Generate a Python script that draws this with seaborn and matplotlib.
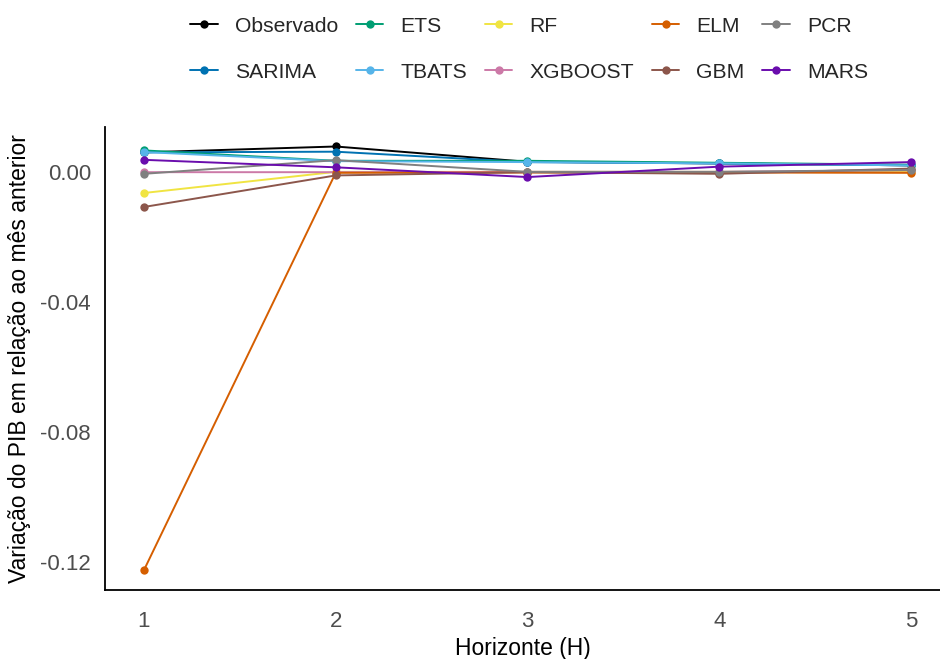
import numpy as np
import pandas as pd
import matplotlib
matplotlib.use("Agg")
import matplotlib.pyplot as plt
import seaborn as sns

horizons = [1, 2, 3, 4, 5]
models = ["Observado", "SARIMA", "ETS", "TBATS", "RF", "XGBOOST", "ELM", "GBM", "PCR", "MARS"]

observado = [0.0060, 0.0078, 0.0031, 0.0026, 0.0020]
sarima = [0.0060, 0.0062, 0.0030, 0.0026, 0.0020]
ets = [0.0066, 0.0034, 0.0034, 0.0028, 0.0022]
tbats = [0.0061, 0.0033, 0.0030, 0.0026, 0.0020]
rf = [-0.0065, 0.0000, 0.0000, 0.0000, 0.0000]
xgboost = [-0.0001, -0.0001, 0.0000, 0.0000, 0.0005]
elm = [-0.1225, -0.0003, -0.0002, -0.0002, -0.0003]
gbm = [-0.0108, -0.0011, -0.0001, -0.0006, 0.0010]
pcr = [-0.0006, 0.0036, 0.0000, 0.0000, 0.0006]
mars = [0.0037, 0.0014, -0.0016, 0.0016, 0.0030]

series = [observado, sarima, ets, tbats, rf, xgboost, elm, gbm, pcr, mars]
colors = ["#000000", "#0072B2", "#009E73", "#56B4E9", "#F0E442",
          "#CC79A7", "#D55E00", "#8C564B", "#808080", "#6A0DAD"]

df = pd.DataFrame({
    "H": np.tile(horizons, len(models)),
    "v": np.concatenate(series),
    "Modelo": np.repeat(models, len(horizons)),
})

sns.set_theme(style="white")
plt.rcParams["font.family"] = ["Liberation Sans", "DejaVu Sans"]

fig = plt.figure(figsize=(9.4, 6.59), dpi=100)
ax = fig.add_axes([0.1117, 0.1047, 0.8883, 0.7026])

sns.lineplot(data=df, x="H", y="v", hue="Modelo", hue_order=models,
             palette=dict(zip(models, colors)), marker="o", markersize=6,
             markeredgewidth=0, linewidth=1.4, ax=ax, legend=True)

handles, labels = ax.get_legend_handles_labels()
ax.get_legend().remove()
fig.legend(handles, labels, loc="center", bbox_to_anchor=(0.563, 0.9255),
           ncol=5, frameon=False, fontsize=15.2, labelspacing=1.28,
           columnspacing=0.85, handlelength=1.3, handletextpad=0.8)

ax.set_xlim(0.797, 5.151)
ax.set_ylim(-0.1286, 0.0138)
ax.set_xticks(horizons)
ax.set_yticks([0.0, -0.04, -0.08, -0.12])
ax.set_yticklabels(["0.00", "-0.04", "-0.08", "-0.12"])
ax.set_xlabel("Horizonte (H)", fontsize=16.5, color="black", labelpad=4)
ax.set_ylabel("Variação do PIB em relação ao mês anterior", fontsize=16.5,
              color="black", labelpad=7)
ax.tick_params(axis="both", labelsize=16, colors="#4d4d4d", length=5,
               width=1.1, direction="out", pad=5)
ax.tick_params(axis="x", pad=10)
ax.tick_params(axis="both", color="black")
for side in ["top", "right"]:
    ax.spines[side].set_visible(False)
for side in ["left", "bottom"]:
    ax.spines[side].set_color("black")
    ax.spines[side].set_linewidth(1.3)
ax.grid(False)

fig.savefig("out.png", dpi=100)
